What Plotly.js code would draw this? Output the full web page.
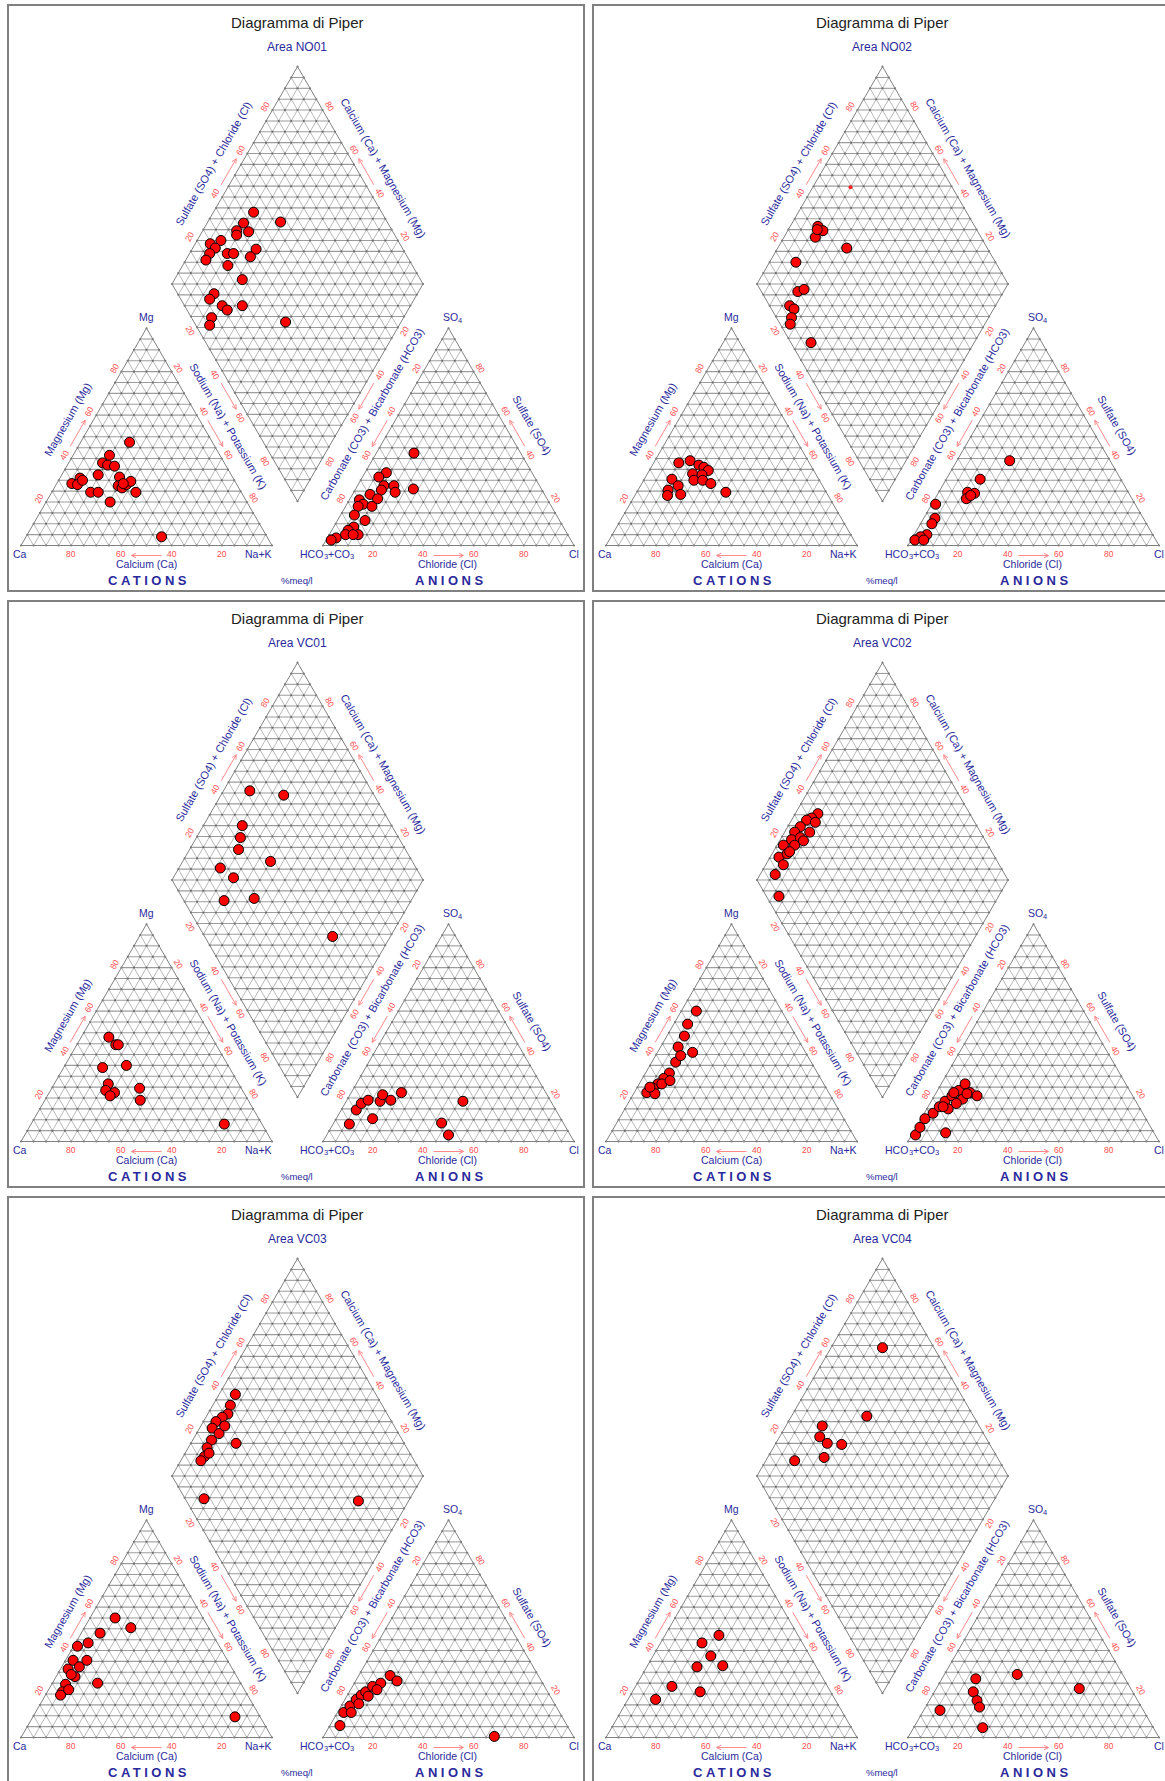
<!DOCTYPE html>
<html>
<head>
<meta charset="utf-8">
<script src="https://cdn.plot.ly/plotly-3.0.1.min.js"></script>
<style>html,body{margin:0;padding:0;background:#fff;}#chart{width:1165px;height:1781px;}</style>
</head>
<body>
<div id="chart"></div>
<script>
// ---------------- DATA (percent meq/l) ----------------
const areas = ["NO01", "NO02", "VC01", "VC02", "VC03", "VC04"];
const tickValues = [20, 40, 60, 80];

// Area NO01
const NO01_cat_Ca = [33, 44, 48.5, 47, 44.5, 53, 61, 65.5, 63.5, 60.5, 60, 57, 54.5, 45, 47.5, 46.5, 44, 41.5, 42, 45, 42];
const NO01_cat_Mg = [47.5, 41.5, 38, 37, 36.5, 32.5, 31, 28.5, 28, 30, 24.5, 24.5, 20, 31.5, 27.5, 26.5, 28, 29.5, 24.5, 28.5, 4];
const NO01_an_Cl = [15, 23, 8.5, 6.5, 10.5, 14.5, 16.5, 10.5, 7, 11, 4, 6.5, 5, 10.5, 5.5, 11, 8, 6.5, 11.5, 6.5, 3.5, 2, 9.5];
const NO01_an_SO4 = [42.5, 26, 33.5, 31.5, 27.5, 27.5, 24.5, 25.5, 23.5, 21.5, 21, 19, 18, 18, 14, 11.5, 8.5, 7, 5, 5, 3.5, 2.5, 5];
const NO01_dia_NaK = [16, 29, 14.5, 13.5, 18.5, 14.5, 9.5, 6, 9, 8, 8, 15, 17.5, 25.5, 25, 18, 27, 19, 18.5, 25, 28, 33, 23.5, 24.5, 54];
const NO01_dia_SO4Cl = [49, 57.5, 42.5, 38, 42.5, 37, 29.5, 24.5, 25.5, 22, 19, 29, 31.5, 41.5, 37.5, 26.5, 29, 14.5, 11.5, 15, 16, 23, 8, 5.5, 36.5];

// Area NO02
const NO02_cat_Ca = [52, 47, 44.5, 43, 42, 49, 45.5, 50, 46.5, 44, 58.5, 57.5, 62.5, 64, 58.5, 40];
const NO02_cat_Mg = [38, 39, 37, 36, 34.5, 33, 32.5, 30, 30, 28.5, 30.5, 27.5, 25.5, 23, 23.5, 24.5];
const NO02_an_Cl = [21, 13.5, 11.5, 14.5, 12.5, 13.5, 1.5, 4.5, 4.5, 5, 3, 1.5, 5];
const NO02_an_SO4 = [39, 30.5, 24.5, 24, 21.5, 23, 19, 12.5, 10, 5, 4, 2.5, 2.5];
const NO02_dia_NaK = [11, 14, 12.5, 11.5, 27.5, 10.5, 18, 20, 18, 20.5, 21.5, 22.5, 35];
const NO02_dia_SO4Cl = [37.5, 38.5, 34, 36.5, 44, 20.5, 14.5, 17.5, 8, 9, 6, 4, 8];
const NO02_small_NaK = [15];
const NO02_small_SO4Cl = [59.5];

// Area VC01
const VC01_cat_Ca = [41, 40, 39, 40.5, 50.5, 52, 54.5, 51.5, 54, 40.5, 43, 15];
const VC01_cat_Mg = [48, 44.5, 44.5, 35, 34, 26.5, 23.5, 22.5, 21, 24.5, 19, 8];
const VC01_an_Cl = [6.5, 6, 6.5, 8.5, 14.5, 13.5, 13, 17.5, 20, 46.5, 43, 48.5];
const VC01_an_SO4 = [8, 14.5, 17.5, 19, 10.5, 18.5, 21.5, 19, 22.5, 18.5, 8.5, 3];
const VC01_dia_NaK = [10.5, 25, 15.5, 17.5, 19.5, 16.5, 35, 24, 25.5, 37, 77];
const VC01_dia_SO4Cl = [51.5, 64, 40.5, 37, 33.5, 22, 43.5, 25, 16, 28.5, 51];

// Area VC02
const VC02_cat_Ca = [34, 40.5, 44.5, 45, 49.5, 54, 59, 62.5, 66, 69, 72.5, 69.5, 64.5, 60.5, 70, 50.5];
const VC02_cat_Mg = [60, 54, 48.5, 41, 43.5, 36.5, 31.5, 29, 26.5, 24.5, 22.5, 22, 26.5, 28, 25, 39.5];
const VC02_an_Cl = [1.5, 1.5, 1.5, 3.5, 4.5, 5.5, 7, 8.5, 9.5, 13.5, 17, 12, 10.5, 8.5, 6, 13, 7, 12.5];
const VC02_an_SO4 = [3, 6.5, 10.5, 13, 16, 18.5, 21, 23.5, 26.5, 22.5, 21, 19.5, 17.5, 15, 16, 4, 22.5, 22];
const VC02_dia_NaK = [9, 7.5, 6, 5, 4, 4.5, 7.5, 10, 2.5, 3.5, 6, 12.5, 6, 7, 9.5, 10, 7, 6.5];
const VC02_dia_SO4Cl = [39.5, 36, 33.5, 29.5, 26, 23, 27, 32, 18.5, 14, 8.5, 5, 18, 23, 27.5, 36.5, 14, 19.5];

// Area VC03
const VC03_cat_Ca = [31, 35, 44.5, 51.5, 56.5, 61.5, 65.5, 64.5, 70, 73, 74.5, 70, 56, 57, 10, 65.5, 60.5];
const VC03_cat_Mg = [50.5, 55, 48, 43.5, 42, 35.5, 31.5, 28, 24.5, 21, 19.5, 22, 35.5, 25, 9.5, 29, 32.5];
const VC03_an_Cl = [4, 2.5, 3.5, 4.5, 5.5, 6.5, 8, 10.5, 12.5, 16.5, 10.5, 6.5, 68, 5.5, 8.5];
const VC03_an_SO4 = [5.5, 11.5, 14.5, 17.5, 19.5, 21, 23.5, 25, 28.5, 26, 22, 15.5, 0.5, 11.5, 19];
const VC03_dia_NaK = [6.5, 7, 8, 6.5, 5, 5, 9, 7.5, 7.5, 8.5, 8, 18, 18, 80, 9.5, 9.5];
const VC03_dia_SO4Cl = [44, 39.5, 36.5, 33.5, 30, 27, 28.5, 24, 20.5, 17.5, 15, 33, 7.5, 68.5, 32.5, 20];

// Area VC04
const VC04_cat_Ca = [31.5, 40, 39.5, 37, 47.5, 62, 52, 71.5];
const VC04_cat_Mg = [47, 43.5, 37.5, 33, 32.5, 23.5, 21, 17.5];
const VC04_an_Cl = [13.5, 29, 57, 15.5, 19, 21.5, 6.5, 27.5];
const VC04_an_SO4 = [27, 29, 22.5, 21, 17, 14, 12.5, 4.5];
const VC04_dia_NaK = [20.5, 30, 14.5, 16, 20.5, 26.5, 11.5, 22.5];
const VC04_dia_SO4Cl = [79.5, 57.5, 37.5, 34, 35.5, 41, 18.5, 31];

const panels = [
  {cat: [NO01_cat_Ca, NO01_cat_Mg], an: [NO01_an_Cl, NO01_an_SO4], dia: [NO01_dia_NaK, NO01_dia_SO4Cl]},
  {cat: [NO02_cat_Ca, NO02_cat_Mg], an: [NO02_an_Cl, NO02_an_SO4], dia: [NO02_dia_NaK, NO02_dia_SO4Cl], small: [NO02_small_NaK, NO02_small_SO4Cl]},
  {cat: [VC01_cat_Ca, VC01_cat_Mg], an: [VC01_an_Cl, VC01_an_SO4], dia: [VC01_dia_NaK, VC01_dia_SO4Cl]},
  {cat: [VC02_cat_Ca, VC02_cat_Mg], an: [VC02_an_Cl, VC02_an_SO4], dia: [VC02_dia_NaK, VC02_dia_SO4Cl]},
  {cat: [VC03_cat_Ca, VC03_cat_Mg], an: [VC03_an_Cl, VC03_an_SO4], dia: [VC03_dia_NaK, VC03_dia_SO4Cl]},
  {cat: [VC04_cat_Ca, VC04_cat_Mg], an: [VC04_an_Cl, VC04_an_SO4], dia: [VC04_dia_NaK, VC04_dia_SO4Cl]}
];

// ---------------- GEOMETRY / STYLE ----------------
const FONT = 'Liberation Sans, Arial, sans-serif';
const BLUE = '#2a2a9c';
const RED = '#ff4d4d';
const ARC = '#ff8a8a';
const S3 = Math.sqrt(3);
const colOff = [0, 585], rowOff = [0, 596, 1192];
const X0 = 21, L = 251, GAP = 51, BASE = 545.5, TH = L * S3 / 2;
const AX0 = X0 + L + GAP;
const BX = X0 + L + GAP / 2, BY = BASE - GAP / 2 * S3;

const annotations = [], shapes = [], traces = [];
const gH = {x: [], y: []}, gD = {x: [], y: []}, gO = {x: [], y: []}, gP = {x: [], y: []};

function lerp(a, b, t) { return [a[0] + (b[0] - a[0]) * t, a[1] + (b[1] - a[1]) * t]; }
function seg(g, p, q) { g.x.push(p[0], q[0], null); g.y.push(p[1], q[1], null); }

function triGrid(P0, P1, P2) {
  for (let i = 1; i < 20; i++) {
    const t = i / 20;
    seg(gH, lerp(P0, P2, t), lerp(P1, P2, t));
    seg(gD, lerp(P0, P1, t), lerp(P2, P1, t));
    seg(gD, lerp(P0, P1, t), lerp(P0, P2, t));
  }
  gO.x.push(P0[0], P1[0], P2[0], P0[0], null); gO.y.push(P0[1], P1[1], P2[1], P0[1], null);
  for (let i = 0; i <= 20; i++) for (let j = 0; j <= 20 - i; j++) {
    gP.x.push(P0[0] + (P1[0] - P0[0]) * i / 20 + (P2[0] - P0[0]) * j / 20);
    gP.y.push(P0[1] + (P1[1] - P0[1]) * i / 20 + (P2[1] - P0[1]) * j / 20);
  }
}
function diaGrid(B, R, T, Lc) {
  for (let i = 1; i < 20; i++) {
    const t = i / 20;
    seg(gD, lerp(B, Lc, t), lerp(R, T, t));
    seg(gD, lerp(B, R, t), lerp(Lc, T, t));
  }
  for (let k = 1; k < 40; k++) {
    const y = B[1] - k * TH / 20;
    const hw = (k <= 20 ? k : 40 - k) / 20 * L / 2;
    seg(gH, [B[0] - hw, y], [B[0] + hw, y]);
  }
  gO.x.push(B[0], R[0], T[0], Lc[0], B[0], null); gO.y.push(B[1], R[1], T[1], Lc[1], B[1], null);
  for (let i = 0; i <= 20; i++) for (let j = 0; j <= 20; j++) {
    gP.x.push(B[0] + (R[0] - B[0]) * i / 20 + (Lc[0] - B[0]) * j / 20);
    gP.y.push(B[1] + (R[1] - B[1]) * i / 20 + (Lc[1] - B[1]) * j / 20);
  }
}
function txt(x, y, text, size, color, angle, extra) {
  annotations.push(Object.assign({
    x: x, y: y, xref: 'x', yref: 'y', text: text, showarrow: false,
    font: {family: FONT, size: size, color: color}, textangle: angle || 0,
    xanchor: 'center', yanchor: 'middle', borderpad: 0
  }, extra || {}));
}
// text with subscripts built from pieces: parts = [[text, isSub], ...]; centred at (cx, y)
const CHARW = {'H': .722, 'C': .722, 'O': .778, 'S': .667, '+': .584, '3': .556, '4': .556};
function subText(cx, y, parts, size, subSize, color) {
  const widths = parts.map(p => p[0].split('').reduce((a, ch) => a + (CHARW[ch] || .6), 0) * (p[1] ? subSize : size));
  let x = cx - widths.reduce((a, b) => a + b, 0) / 2;
  parts.forEach((p, i) => {
    txt(x, p[1] ? y + 3 : y, p[0], p[1] ? subSize : size, color, 0, {xanchor: 'left'});
    x += widths[i];
  });
}
function edgePt(A, Bv, t, n, d) { const p = lerp(A, Bv, t); return [p[0] + n[0] * d, p[1] + n[1] * d]; }
// thin arrow drawn as a path shape (tail p -> head q) with an open V head
function arrow(p, q) {
  const len = Math.hypot(q[0] - p[0], q[1] - p[1]);
  const u = [(q[0] - p[0]) / len, (q[1] - p[1]) / len], w = [-u[1], u[0]];
  const hl = 4.5, hw = 2.2;
  const h1 = [q[0] - u[0] * hl + w[0] * hw, q[1] - u[1] * hl + w[1] * hw];
  const h2 = [q[0] - u[0] * hl - w[0] * hw, q[1] - u[1] * hl - w[1] * hw];
  const f = v => v.toFixed(2);
  shapes.push({type: 'path', xref: 'x', yref: 'y',
    path: 'M' + f(p[0]) + ',' + f(p[1]) + ' L' + f(q[0]) + ',' + f(q[1]) +
          ' M' + f(h1[0]) + ',' + f(h1[1]) + ' L' + f(q[0]) + ',' + f(q[1]) + ' L' + f(h2[0]) + ',' + f(h2[1]),
    line: {color: ARC, width: 1}});
}

const nL = [-0.866, -0.5], nR = [0.866, -0.5], nLL = [-0.866, 0.5], nLR = [0.866, 0.5], nB = [0, 1];

function addPanel(k) {
  const ox = colOff[k % 2], oy = rowOff[Math.floor(k / 2)];
  const P0 = [X0 + ox, BASE + oy], P1 = [X0 + L + ox, BASE + oy], P2 = [X0 + L / 2 + ox, BASE - TH + oy];
  const Q0 = [AX0 + ox, BASE + oy], Q1 = [AX0 + L + ox, BASE + oy], Q2 = [AX0 + L / 2 + ox, BASE - TH + oy];
  const B = [BX + ox, BY + oy], R = [BX + L / 2 + ox, BY - TH + oy], T = [BX + ox, BY - 2 * TH + oy], Lc = [BX - L / 2 + ox, BY - TH + oy];

  triGrid(P0, P1, P2); triGrid(Q0, Q1, Q2); diaGrid(B, R, T, Lc);

  shapes.push({type: 'rect', xref: 'x', yref: 'y', x0: 8 + ox, x1: 584 + ox, y0: 5 + oy, y1: 591 + oy,
    line: {color: '#808080', width: 2}, fillcolor: 'rgba(0,0,0,0)', layer: 'below'});

  txt(297 + ox, 22 + oy, 'Diagramma di Piper', 15, '#222');
  txt(297 + ox, 47 + oy, 'Area ' + areas[k], 12, BLUE);

  // tick labels
  const TS = 8.5, TD = 8;
  tickValues.forEach(v => {
    let p;
    p = edgePt(P0, P1, (100 - v) / 100, nB, TD); txt(p[0], p[1], String(v), TS, RED, 0);
    p = edgePt(P0, P2, v / 100, nL, TD); txt(p[0], p[1], String(v), TS, RED, -60);
    p = edgePt(P2, P1, v / 100, nR, TD); txt(p[0], p[1], String(v), TS, RED, 60);
    p = edgePt(Q0, Q1, v / 100, nB, TD); txt(p[0], p[1], String(v), TS, RED, 0);
    p = edgePt(Q2, Q0, v / 100, nL, TD); txt(p[0], p[1], String(v), TS, RED, -60);
    p = edgePt(Q1, Q2, v / 100, nR, TD); txt(p[0], p[1], String(v), TS, RED, 60);
    p = edgePt(Lc, T, v / 100, nL, TD); txt(p[0], p[1], String(v), TS, RED, -60);
    p = edgePt(R, T, v / 100, nR, TD); txt(p[0], p[1], String(v), TS, RED, 60);
    p = edgePt(Lc, B, v / 100, nLL, TD); txt(p[0], p[1], String(v), TS, RED, 60);
    p = edgePt(R, B, v / 100, nLR, TD); txt(p[0], p[1], String(v), TS, RED, -60);
  });

  // arrows (tail at 44 %, head at 56 %)
  const AD = 7;
  arrow(edgePt(P0, P1, 0.56, nB, 10), edgePt(P0, P1, 0.44, nB, 10));
  arrow(edgePt(Q0, Q1, 0.44, nB, 10), edgePt(Q0, Q1, 0.56, nB, 10));
  arrow(edgePt(P0, P2, 0.44, nL, AD), edgePt(P0, P2, 0.56, nL, AD));
  arrow(edgePt(P2, P1, 0.44, nR, AD), edgePt(P2, P1, 0.56, nR, AD));
  arrow(edgePt(Q2, Q0, 0.44, nL, AD), edgePt(Q2, Q0, 0.56, nL, AD));
  arrow(edgePt(Q1, Q2, 0.44, nR, AD), edgePt(Q1, Q2, 0.56, nR, AD));
  arrow(edgePt(Lc, T, 0.44, nL, AD), edgePt(Lc, T, 0.56, nL, AD));
  arrow(edgePt(R, T, 0.44, nR, AD), edgePt(R, T, 0.56, nR, AD));
  arrow(edgePt(Lc, B, 0.44, nLL, AD), edgePt(Lc, B, 0.56, nLL, AD));
  arrow(edgePt(R, B, 0.44, nLR, AD), edgePt(R, B, 0.56, nLR, AD));

  // axis titles
  const LS = 11;
  let p;
  p = edgePt(P0, P2, 0.53, nL, 23); txt(p[0], p[1], 'Magnesium (Mg)', LS, BLUE, -60);
  p = edgePt(P2, P1, 0.50, nR, 22); txt(p[0], p[1], 'Sodium (Na) + Potassium (K)', LS, BLUE, 60);
  p = edgePt(Q2, Q0, 0.45, nL, 23); txt(p[0], p[1], 'Carbonate (CO3) + Bicarbonate (HCO3)', LS, BLUE, -60);
  p = edgePt(Q1, Q2, 0.50, nR, 24); txt(p[0], p[1], 'Sulfate (SO4)', LS, BLUE, 60);
  p = edgePt(Lc, T, 0.50, nL, 24); txt(p[0], p[1], 'Sulfate (SO4) + Chloride (Cl)', LS, BLUE, -60);
  p = edgePt(R, T, 0.48, nR, 24); txt(p[0], p[1], 'Calcium (Ca) + Magnesium (Mg)', LS, BLUE, 60);

  // vertex labels
  txt(P2[0], P2[1] - 11, 'Mg', 10.5, BLUE);
  subText(Q2[0] + 3, Q2[1] - 11, [['SO', false], ['4', true]], 10.5, 7.5, BLUE);
  txt(P0[0] - 1, BASE + 8 + oy, 'Ca', 10.5, BLUE);
  txt(P1[0] + 1, BASE + 8 + oy, 'Na+K', 10.5, BLUE, 0, {xanchor: 'right'});
  subText(Q0[0] + 3, BASE + 8 + oy, [['HCO', false], ['3', true], ['+CO', false], ['3', true]], 10.5, 7.5, BLUE);
  txt(Q1[0], BASE + 8 + oy, 'Cl', 10.5, BLUE);

  // bottom texts
  txt(P2[0], 564 + oy, 'Calcium (Ca)', 10.5, BLUE);
  txt(Q2[0] - 1, 564 + oy, 'Chloride (Cl)', 10.5, BLUE);
  txt(P2[0] + 2, 580 + oy, '<b><span style="letter-spacing:3.5px">CATIONS</span></b>', 13, BLUE);
  txt(Q2[0] + 2, 580 + oy, '<b><span style="letter-spacing:3.5px">ANIONS</span></b>', 13, BLUE);
  txt(297 + ox, 580 + oy, '%meq/l', 9.5, BLUE);

  // data points
  const d = panels[k];
  const marker = {size: 10, color: '#ff0000', line: {color: '#000000', width: 1}};
  const cx = [], cy = [];
  d.cat[0].forEach((ca, i) => {
    const mg = d.cat[1][i], nak = 100 - ca - mg;
    cx.push(P0[0] + L * (nak + mg / 2) / 100); cy.push(P0[1] - TH * mg / 100);
  });
  const axx = [], ayy = [];
  d.an[0].forEach((cl, i) => {
    const so4 = d.an[1][i];
    axx.push(Q0[0] + L * (cl + so4 / 2) / 100); ayy.push(Q0[1] - TH * so4 / 100);
  });
  const dx = [], dy = [];
  d.dia[0].forEach((nak, i) => {
    const s = d.dia[1][i];
    dx.push(B[0] + L * (s + nak - 100) / 200); dy.push(B[1] - TH * (s + 100 - nak) / 100);
  });
  traces.push({x: cx, y: cy, mode: 'markers', type: 'scatter', name: areas[k] + ' cations', marker: marker, cliponaxis: false});
  traces.push({x: axx, y: ayy, mode: 'markers', type: 'scatter', name: areas[k] + ' anions', marker: marker, cliponaxis: false});
  traces.push({x: dx, y: dy, mode: 'markers', type: 'scatter', name: areas[k] + ' diamond', marker: marker, cliponaxis: false});
  if (d.small) {
    const sx = [], sy = [];
    d.small[0].forEach((nak, i) => {
      const s = d.small[1][i];
      sx.push(B[0] + L * (s + nak - 100) / 200); sy.push(B[1] - TH * (s + 100 - nak) / 100);
    });
    traces.push({x: sx, y: sy, mode: 'markers', type: 'scatter', name: areas[k] + ' extra', marker: {size: 4, color: '#ff2020'}});
  }
}

for (let k = 0; k < 6; k++) addPanel(k);

const gridTraces = [
  {x: gD.x, y: gD.y, mode: 'lines', type: 'scatter', line: {color: '#b0b0b0', width: 0.9}, hoverinfo: 'skip'},
  {x: gH.x, y: gH.y, mode: 'lines', type: 'scatter', line: {color: '#9c9c9c', width: 1.1}, hoverinfo: 'skip'},
  {x: gP.x, y: gP.y, mode: 'markers', type: 'scatter', marker: {size: 2, color: '#666666'}, hoverinfo: 'skip'},
  {x: gO.x, y: gO.y, mode: 'lines', type: 'scatter', line: {color: '#808080', width: 1}, hoverinfo: 'skip'}
];

const layout = {
  width: 1165, height: 1781, margin: {l: 0, r: 0, t: 0, b: 0, pad: 0},
  paper_bgcolor: '#ffffff', plot_bgcolor: '#ffffff', showlegend: false, hovermode: false,
  xaxis: {range: [0, 1165], visible: false, fixedrange: true},
  yaxis: {range: [1781, 0], visible: false, fixedrange: true},
  annotations: annotations, shapes: shapes
};
Plotly.newPlot('chart', gridTraces.concat(traces), layout, {staticPlot: true, displayModeBar: false});
</script>
</body>
</html>
